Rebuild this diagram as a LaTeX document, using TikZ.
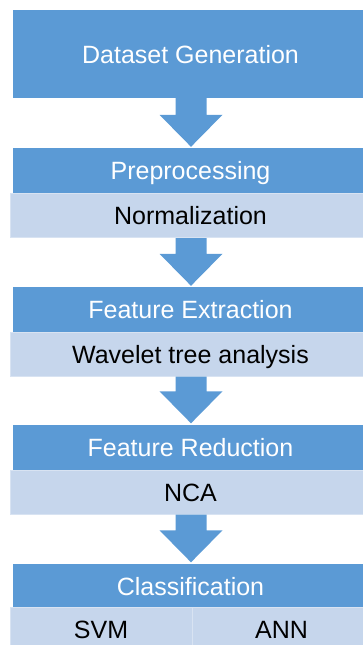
\documentclass[tikz,border=0pt]{standalone}
\usepackage{fontspec}
\setmainfont{Liberation Sans}
\usetikzlibrary{calc}
\definecolor{stageblue}{HTML}{5B9AD5}
\definecolor{stagelight}{HTML}{C6D6EC}
\definecolor{stageedge}{HTML}{D8E3F2}
\tikzset{
  x=1pt, y=-1pt,
  txt/.style={font=\fontsize{25}{29}\selectfont, text height=18pt, text depth=0pt, inner sep=0pt},
  headbox/.style={txt, fill=stageblue, text=white, minimum width=355pt, minimum height=45pt},
  subbox/.style={txt, fill=stagelight, draw=stageedge, line width=1pt, text=black, minimum width=360pt, minimum height=44pt},
  halfbox/.style={txt, fill=stagelight, draw=stageedge, line width=1pt, text=black, minimum height=44pt},
}
% block arrow from the bottom of one box to the top of the next
\newcommand\flowarrow[2]{%
  \path let \p1=(#1.south), \p2=(#2.north) in
    [fill=stageblue]
    ({191pt-15.5pt},\y1) -- ({191pt+15.5pt},\y1) -- ({191pt+15.5pt},\y2+33pt)
    -- ({191pt+31.5pt},\y2+33pt) -- (191pt,\y2+1pt) -- ({191pt-31.5pt},\y2+33pt)
    -- ({191pt-15.5pt},\y2+33pt) -- cycle;}
\begin{document}
\begin{tikzpicture}
\useasboundingbox (0,0) rectangle (363,645);
\begin{scope}
\clip (0,0) rectangle (363,645);
\node[headbox, minimum height=88pt] (gen) at (190.5,54) {Dataset Generation};

\node[headbox] (pre) at (190.5,170.5) {Preprocessing};
\node[subbox] (norm) at (190.5,215.5) {Normalization};

\node[headbox] (fe) at (190.5,309.5) {Feature Extraction};
\node[subbox] (wav) at (190.5,354) {Wavelet tree analysis};

\node[headbox] (fr) at (190.5,447) {Feature Reduction};
\node[subbox] (nca) at (190.5,492) {NCA};

\node[headbox] (cls) at (190.5,586) {Classification};
\node[halfbox, minimum width=182pt] (svm) at (101,629) {SVM};
\node[halfbox, minimum width=179pt] (ann) at (281.5,629) {ANN};

\flowarrow{gen}{pre}
\flowarrow{norm}{fe}
\flowarrow{wav}{fr}
\flowarrow{nca}{cls}
\end{scope}
\end{tikzpicture}
\end{document}
